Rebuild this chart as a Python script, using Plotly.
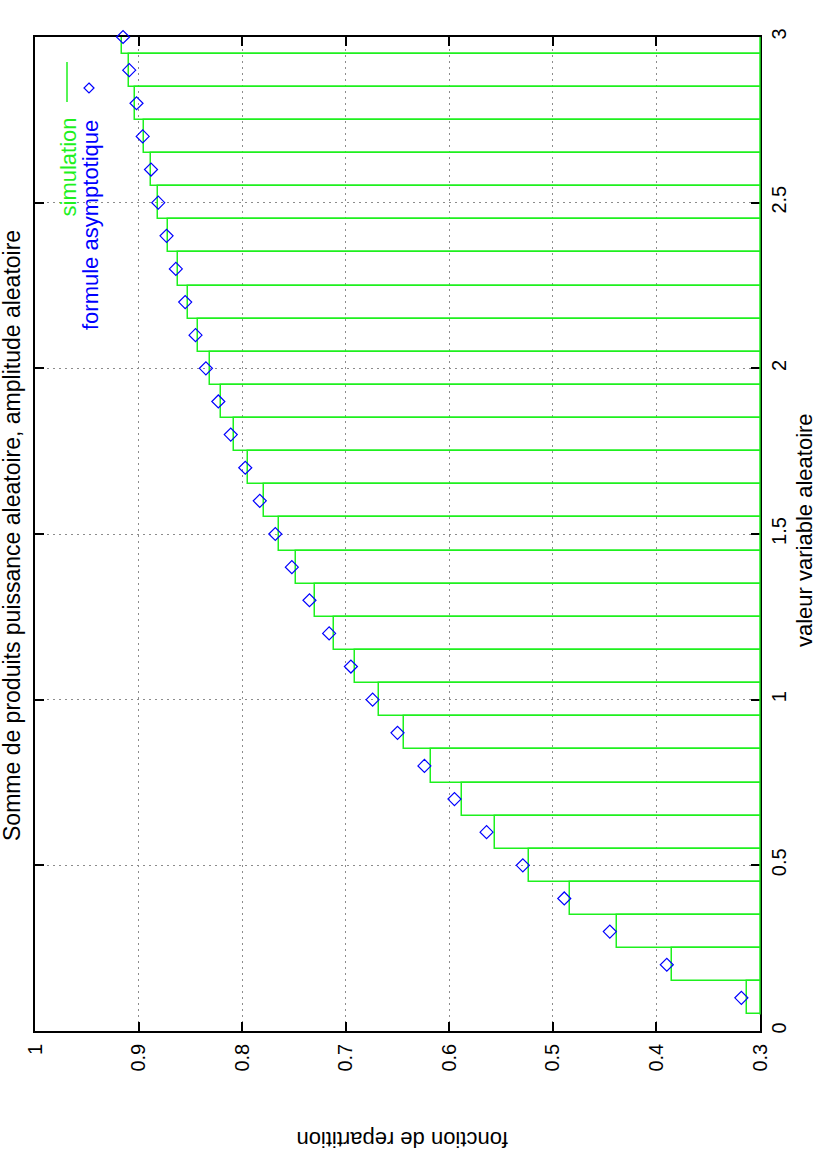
import plotly.graph_objects as go

# ---- data ----
x_values = [0.1, 0.2, 0.3, 0.4, 0.5, 0.6, 0.7, 0.8, 0.9, 1.0,
            1.1, 1.2, 1.3, 1.4, 1.5, 1.6, 1.7, 1.8, 1.9, 2.0,
            2.1, 2.2, 2.3, 2.4, 2.5, 2.6, 2.7, 2.8, 2.9, 3.0]
simulation = [0.313, 0.385, 0.438, 0.483, 0.523, 0.556, 0.588, 0.618, 0.644, 0.668,
              0.691, 0.711, 0.730, 0.748, 0.764, 0.779, 0.794, 0.808, 0.820, 0.831,
              0.843, 0.852, 0.862, 0.872, 0.881, 0.888, 0.895, 0.903, 0.909, 0.916]
asymptotique = [0.318, 0.390, 0.445, 0.489, 0.529, 0.564, 0.595, 0.624, 0.650, 0.674,
                0.695, 0.716, 0.735, 0.752, 0.768, 0.783, 0.797, 0.811, 0.823, 0.835,
                0.845, 0.855, 0.864, 0.873, 0.881, 0.888, 0.896, 0.902, 0.909, 0.915]
box_width = 0.1
f_ticks = [0.3, 0.4, 0.5, 0.6, 0.7, 0.8, 0.9, 1.0]
f_ticktext = ["0.3", "0.4", "0.5", "0.6", "0.7", "0.8", "0.9", "1"]
v_ticks = [0, 0.5, 1, 1.5, 2, 2.5, 3]
v_ticktext = ["0", "0.5", "1", "1.5", "2", "2.5", "3"]

title_text = "Somme de produits puissance aleatoire, amplitude aleatoire"
xlabel_text = "valeur variable aleatoire"
ylabel_text = "fonction de repartition"
legend_sim = "simulation"
legend_asy = "formule asymptotique"

GREEN = "#1ef01e"
BLUE = "#0000ff"
FONT = "Liberation Sans, Arial, Helvetica, sans-serif"

W, H = 817, 1168
L, R, T, B = 35, 57, 37, 137
pw, ph = W - L - R, H - T - B


def px(x):
    return (x - L) / pw


def py(y):
    return (H - B - y) / ph


fig = go.Figure()

# simulation: outlined boxes (rotated page: bars are horizontal)
fig.add_trace(go.Bar(
    orientation="h",
    x=simulation,
    y=x_values,
    width=box_width,
    base=0,
    marker=dict(color="rgba(0,0,0,0)", line=dict(color=GREEN, width=1.5)),
    showlegend=False,
))

# asymptotic formula: open diamonds
fig.add_trace(go.Scatter(
    x=asymptotique,
    y=x_values,
    mode="markers",
    marker=dict(symbol="diamond-open", size=10, color=BLUE, line=dict(width=1.2, color=BLUE)),
    cliponaxis=False,
    showlegend=False,
))

axis_common = dict(
    showline=True, linecolor="black", linewidth=1.5,
    mirror="ticks", ticks="inside", ticklen=9, tickwidth=1.5, tickcolor="black",
    showgrid=True, gridcolor="#8c8c8c", gridwidth=1, griddash="2px,4px",
    zeroline=False,
    tickfont=dict(family=FONT, size=20, color="black"),
    tickangle=-90,
    layer="below traces",
)

fig.update_layout(
    width=W, height=H,
    margin=dict(l=L, r=R, t=T, b=B, pad=0),
    paper_bgcolor="white", plot_bgcolor="white",
    xaxis=dict(range=[1.0, 0.3], tickvals=f_ticks, ticktext=f_ticktext,
               ticklabelstandoff=3, **axis_common),
    yaxis=dict(range=[0, 3], tickvals=v_ticks, ticktext=v_ticktext, side="right",
               ticklabelstandoff=0, **axis_common),
    showlegend=False,
    bargap=0,
)

annotations = [
    dict(text=title_text, x=px(12), y=py(536), textangle=-90,
         font=dict(family=FONT, size=23, color="black")),
    dict(text=xlabel_text, x=px(804), y=py(530), textangle=-90,
         font=dict(family=FONT, size=22, color="black")),
    dict(text=ylabel_text, x=px(402), y=py(1140), textangle=180,
         font=dict(family=FONT, size=22, color="black")),
    dict(text=legend_sim, x=px(68), y=py(116), textangle=-90, yanchor="top",
         font=dict(family=FONT, size=22, color=GREEN)),
    dict(text=legend_asy, x=px(90), y=py(118), textangle=-90, yanchor="top",
         font=dict(family=FONT, size=22, color=BLUE)),
]
for a in annotations:
    a.update(xref="paper", yref="paper", showarrow=False)
    a.setdefault("xanchor", "center")
    a.setdefault("yanchor", "middle")
fig.update_layout(annotations=annotations)

shapes = [
    # green box baseline along right edge
    dict(type="line", xref="paper", yref="y", x0=1, x1=1,
         y0=x_values[0] - box_width / 2, y1=3, line=dict(color=GREEN, width=1.5), layer="above"),
    # legend sample line
    dict(type="line", xref="paper", yref="paper", x0=px(67), x1=px(67), y0=py(62), y1=py(102),
         line=dict(color=GREEN, width=1.5), layer="above"),
    # legend sample diamond
    dict(type="path", xref="paper", yref="paper", xsizemode="pixel", ysizemode="pixel",
         xanchor=px(89), yanchor=py(88), path="M 0,5 L 5,0 L 0,-5 L -5,0 Z",
         line=dict(color=BLUE, width=1.2), fillcolor="rgba(0,0,0,0)", layer="above"),
]
fig.update_layout(shapes=shapes)

fig.write_html("out.html", config={"displayModeBar": False},
               post_script="document.body.style.margin='0';")
